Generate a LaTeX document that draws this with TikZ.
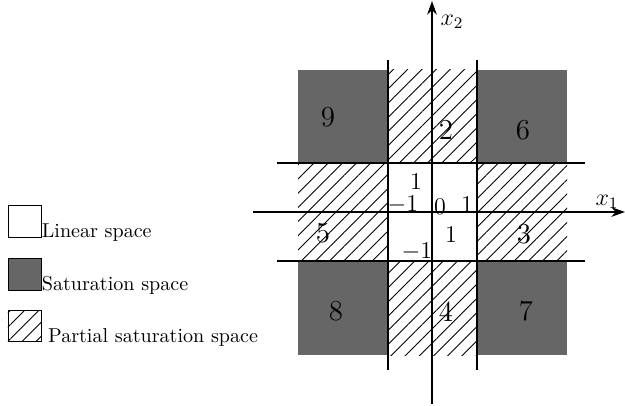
\documentclass[tikz,border=0pt]{standalone}
\usetikzlibrary{arrows.meta,patterns.meta}
\tikzset{
  satfill/.style={fill=black!60},
  partfill/.style={pattern={Lines[angle=45,distance=5pt,line width=0.45pt]}},
  gridline/.style={semithick},
  tengely/.style={semithick,-{Stealth[length=2.4mm,width=1.7mm]}},
  axlab/.style={font=\large,inner sep=1pt},
  reg/.style={font=\Large,inner sep=1pt},
  kozep/.style={font=\large,inner sep=1pt},
  legbox/.style={draw,minimum width=5.8mm,minimum height=5.5mm,inner sep=0pt},
  legtxt/.style={anchor=base west,inner sep=0pt},
}
\begin{document}
\begin{tikzpicture}[x=0.0175cm,y=-0.0175cm]
  \useasboundingbox (0,0) rectangle (625,406);
  % saturation squares
  \fill[satfill] (298,70) rectangle (388,163);
  \fill[satfill] (477,70) rectangle (567,163);
  \fill[satfill] (298,261) rectangle (388,355);
  \fill[satfill] (477,261) rectangle (567,355);
  % partial saturation strips
  \fill[partfill] (388,70) rectangle (477,163);
  \fill[partfill] (388,261) rectangle (477,355);
  \fill[partfill] (298,163) rectangle (388,261);
  \fill[partfill] (477,163) rectangle (567,261);
  % boundaries
  \draw[gridline] (388,60) -- (388,370);
  \draw[gridline] (477,60) -- (477,370);
  \draw[gridline] (277,163) -- (585,163);
  \draw[gridline] (277,261) -- (585,261);
  % axes
  \coordinate (x1s) at (253,212);
  \coordinate (x1e) at (625,212);
  \coordinate (x2s) at (432,404);
  \coordinate (x2e) at (432,1);
  \draw[tengely] (x1s) -- (x1e);
  \draw[tengely] (x2s) -- (x2e);
  \node[axlab] (x1l) at (607,202) {$x_1$};
  \node[axlab] (x2l) at (452,22) {$x_2$};
  % region numbers
  \foreach \n/\x/\y in {9/328/117,2/446/130,6/523/130,5/323/233,3/524/234,8/336/311,4/446/312,7/526/311}
    \node[reg] (r\n) at (\x,\y) {$\n$};
  % labels of the linear square
  \node[kozep] (fel) at (416,182) {$1$};
  \node[kozep] (bal) at (403,205) {$-1$};
  \node[kozep] (nul) at (440,207) {$0$};
  \node[kozep] (jobb) at (467,205) {$1$};
  \node[kozep] (le1) at (451,235) {$1$};
  \node[kozep] (le2) at (417,252) {$-1$};
  % legend
  \node[legbox] (lin) at (24.5,221.5) {};
  \node[legbox,satfill] (sat) at (24.5,274.5) {};
  \node[legbox,partfill] (part) at (24.5,326) {};
  \node[legtxt] (tlin) at (lin.south east) {Linear space};
  \node[legtxt] (tsat) at (sat.south east) {Saturation space};
  \node[legtxt,xshift=1.1mm] (tpart) at (part.south east) {Partial saturation space};
\end{tikzpicture}
\end{document}
